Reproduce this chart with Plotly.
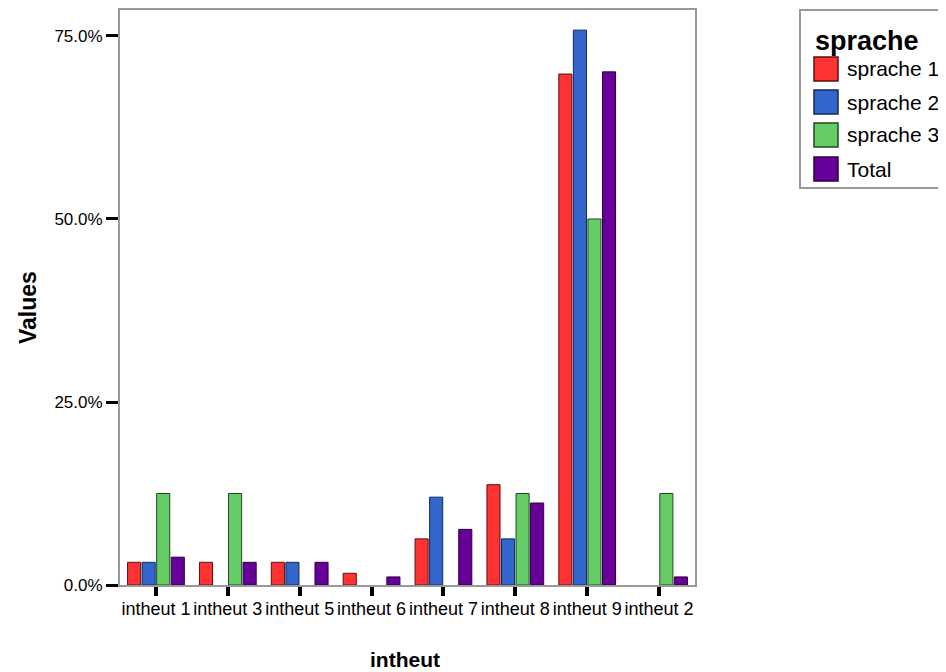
import plotly.graph_objects as go

categories = ["intheut 1", "intheut 3", "intheut 5", "intheut 6", "intheut 7", "intheut 8", "intheut 9", "intheut 2"]
series_names = ["sprache 1", "sprache 2", "sprache 3", "Total"]
sprache1 = [3.1, 3.1, 3.1, 1.6, 6.3, 13.7, 69.8, None]
sprache2 = [3.1, None, 3.1, None, 12.0, 6.3, 75.8, None]
sprache3 = [12.5, 12.5, None, None, None, 12.5, 50.0, 12.5]
total = [3.8, 3.1, 3.1, 1.1, 7.6, 11.2, 70.1, 1.1]
colors = ["#FF3333", "#3366CC", "#66CC66", "#660099"]
line_colors = ["#5a1010", "#102a5a", "#1f4a1f", "#2a0040"]
tick_vals = [0, 25, 50, 75]
tick_text = ["0.0%", "25.0%", "50.0%", "75.0%"]
legend_title = "sprache"

# plot area geometry (figure pixels)
L, T, W, H = 112, 2, 575, 575
FW, FH = 946, 672

def px(X):  # screen x -> paper
    return (X - 120) / W

def py(Y):  # screen y -> paper
    return (585 - Y) / H

fig = go.Figure()
for name, vals, c, lc in zip(series_names, [sprache1, sprache2, sprache3, total], colors, line_colors):
    fig.add_trace(go.Bar(
        x=categories, y=vals, name=name,
        marker=dict(color=c, line=dict(color=lc, width=1)),
    ))

shapes = []
annotations = []
# legend box
shapes.append(dict(type="rect", xref="paper", yref="paper",
                   x0=px(800), x1=px(960), y0=py(188), y1=py(10),
                   line=dict(color="#999999", width=2), fillcolor="white", layer="below"))
annotations.append(dict(text="<b>%s</b>" % legend_title, xref="paper", yref="paper",
                        x=px(813), y=py(41), xanchor="left", yanchor="middle",
                        showarrow=False, font=dict(size=27, color="black")))
row_centers = [69, 102, 135, 169]
for name, c, lc, yc in zip(series_names, colors, line_colors, row_centers):
    shapes.append(dict(type="rect", xref="paper", yref="paper",
                       x0=px(814), x1=px(838), y0=py(yc + 12), y1=py(yc - 12),
                       line=dict(color=lc, width=1.5), fillcolor=c))
    annotations.append(dict(text=name, xref="paper", yref="paper",
                            x=px(845), y=py(yc), xanchor="left", yanchor="middle",
                            showarrow=False, font=dict(size=21, color="black")))
# axis titles
annotations.append(dict(text="<b>Values</b>", xref="paper", yref="paper",
                        x=px(28), y=py(308), xanchor="center", yanchor="middle",
                        textangle=-90, showarrow=False, font=dict(size=23, color="black")))
annotations.append(dict(text="<b>intheut</b>", xref="paper", yref="paper",
                        x=px(405), y=py(659), xanchor="center", yanchor="middle",
                        showarrow=False, font=dict(size=21, color="black")))

fig.update_layout(
    width=FW, height=FH,
    margin=dict(l=L, r=FW - L - W, t=T, b=FH - T - H, autoexpand=False),
    paper_bgcolor="white", plot_bgcolor="white",
    barmode="group", bargap=0.19, bargroupgap=0.1,
    font=dict(family="Liberation Sans, Arial", color="black"),
    showlegend=False,
    shapes=shapes,
    annotations=annotations,
    xaxis=dict(
        range=[-0.5, 7.5], automargin=False,
        showline=True, linecolor="#999999", linewidth=2, mirror=True,
        ticks="outside", ticklen=9, tickwidth=4, tickcolor="black",
        tickfont=dict(size=18), ticklabelstandoff=-3,
    ),
    yaxis=dict(
        range=[0, 78.55], automargin=False,
        tickvals=tick_vals, ticktext=tick_text,
        showgrid=False, zeroline=False,
        showline=True, linecolor="#999999", linewidth=2, mirror=True,
        ticks="outside", ticklen=12, tickwidth=3, tickcolor="black",
        tickfont=dict(size=17),
    ),
)

fig.write_html("out.html")
